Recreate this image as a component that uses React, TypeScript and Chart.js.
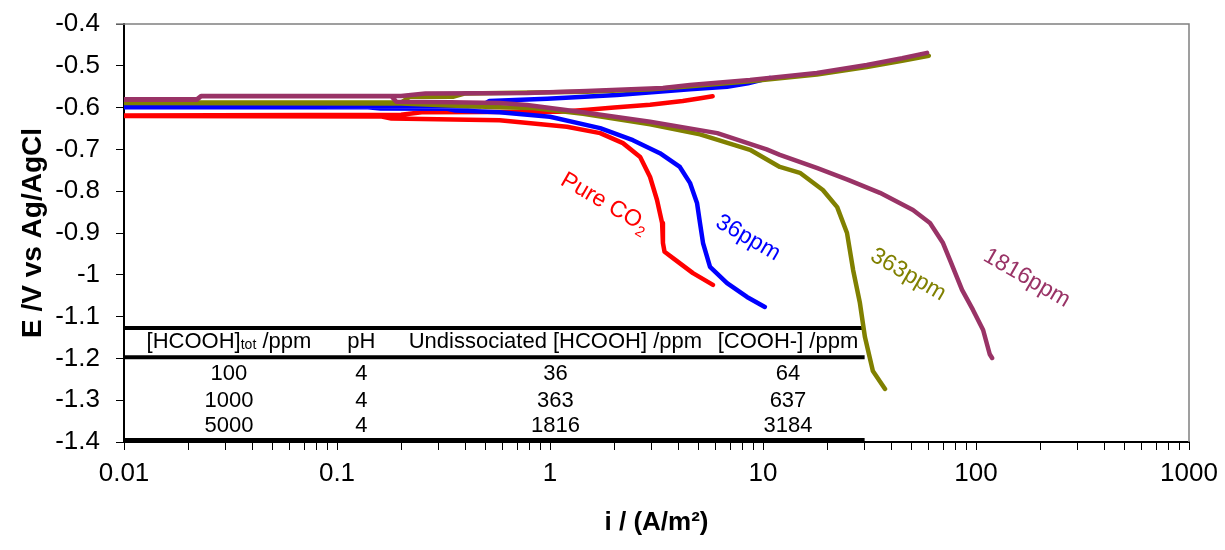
import React, { useEffect, useRef } from "react";
import { Chart, registerables } from "chart.js";

Chart.register(...registerables);

const FONT = '"Liberation Sans", Arial, Helvetica, sans-serif';

// ---- Pure CO2 (red): anodic branch (right -> left), then cathodic branch (left -> right)
const pureI = [5.8, 5.0, 4.2, 2.95, 2.0, 1.5, 1.1, 0.25, 0.2, 0.005,
  0.005, 0.16, 0.18, 0.58, 1.2, 1.72, 2.2, 2.65, 2.95, 3.18, 3.36, 3.39, 3.45, 3.78, 4.69, 5.82];
const pureE = [-0.573, -0.578, -0.584, -0.593, -0.600, -0.605, -0.610, -0.611, -0.617, -0.619,
  -0.620, -0.621, -0.626, -0.630, -0.646, -0.661, -0.685, -0.718, -0.766, -0.821, -0.876, -0.924, -0.945, -0.960, -0.996, -1.024];

// ---- 36 ppm (blue)
const p36I = [10.8, 8.5, 6.78, 4.54, 2.06, 0.97, 0.52, 0.47, 0.005,
  0.005, 0.14, 0.16, 0.33, 0.36, 0.58, 1.0, 1.72, 2.45, 3.28, 4.07, 4.54, 4.9, 5.06, 5.23, 5.64, 6.78, 8.41, 10.2];
const p36E = [-0.529, -0.542, -0.550, -0.556, -0.570, -0.579, -0.584, -0.597, -0.598,
  -0.599, -0.599, -0.602, -0.603, -0.607, -0.611, -0.622, -0.649, -0.678, -0.709, -0.742, -0.780, -0.828, -0.876, -0.924, -0.981, -1.020, -1.053, -1.077];

// ---- 363 ppm (olive)
const p363I = [60, 45, 30.7, 17.9, 8.69, 4.54, 3.0, 1.49, 0.4, 0.35, 0.22, 0.2, 0.005,
  0.005, 0.2, 0.34, 0.58, 0.83, 1.43, 2.95, 5.06, 8.69, 12.0, 14.9, 19.1, 22.3, 24.8, 26.5, 28.5, 30.1, 32.8, 37.4];
const p363E = [-0.476, -0.488, -0.503, -0.521, -0.537, -0.549, -0.556, -0.562, -0.566, -0.574, -0.574, -0.588, -0.588,
  -0.589, -0.590, -0.595, -0.599, -0.601, -0.615, -0.640, -0.664, -0.701, -0.742, -0.756, -0.797, -0.838, -0.900, -0.989, -1.067, -1.149, -1.230, -1.273];

// ---- 1816 ppm (purple)
const p1816I = [58.9, 45, 30.7, 17.9, 8.69, 4.54, 3.39, 1.49, 0.78, 0.26, 0.2, 0.023, 0.022, 0.005,
  0.005, 0.022, 0.023, 0.18, 0.19, 0.34, 0.58, 0.78, 1.43, 2.95, 6.1, 10.4, 12.0, 18, 25.1, 35.4, 50.6, 60.8, 70.0, 75.5, 86.0, 96.8, 108, 116, 119];
const p1816E = [-0.469, -0.482, -0.498, -0.517, -0.534, -0.546, -0.553, -0.560, -0.565, -0.566, -0.572, -0.572, -0.580, -0.580,
  -0.581, -0.581, -0.573, -0.573, -0.586, -0.587, -0.589, -0.594, -0.611, -0.634, -0.661, -0.700, -0.713, -0.745, -0.773, -0.804, -0.845, -0.876, -0.924, -0.965, -1.036, -1.084, -1.132, -1.190, -1.199];

const seriesNames = ["Pure CO2", "36ppm", "363ppm", "1816ppm"];
const seriesColors = ["#FF0000", "#0000FF", "#808000", "#993366"];

// curve labels (centre position in data units)
const labelTexts = ["Pure CO", "36ppm", "363ppm", "1816ppm"];
const labelSubs = ["2", "", "", ""];
const labelI = [1.81, 8.5, 48, 173];
const labelE = [-0.828, -0.912, -1.0, -1.008];

// axis ticks
const xTickDecades = [0.01, 0.1, 1, 10, 100, 1000];
const xTickLabels = ["0.01", "0.1", "1", "10", "100", "1000"];
const xMinorMultipliers = [2, 3, 4, 5, 6, 7, 8, 9];
const yTickValues = [-1.4, -1.3, -1.2, -1.1, -1.0, -0.9, -0.8, -0.7, -0.6, -0.5, -0.4];
const yTickLabels = ["-1.4", "-1.3", "-1.2", "-1.1", "-1", "-0.9", "-0.8", "-0.7", "-0.6", "-0.5", "-0.4"];

// embedded table
const tableHeaderMain = ["[HCOOH]", "pH", "Undissociated [HCOOH] /ppm", "[COOH-] /ppm"];
const tableRows = [
  ["100", "4", "36", "64"],
  ["1000", "4", "363", "637"],
  ["5000", "4", "1816", "3184"],
];
const tableColI = [0.0311, 0.13, 1.06, 13.1];
const tableHeaderE = -1.175;
const tableRowE = [-1.2517, -1.3163, -1.376];
const tableLineE = [-1.127, -1.197, -1.395];
const tableLineStartI = 0.0101;
const tableLineEndI = 30;

export default function App() {
  const ref = useRef<HTMLCanvasElement>(null);

  useEffect(() => {
    const canvas = ref.current;
    if (!canvas) return;
    const mk = (I: number[], E: number[]) => I.map((x, k) => ({ x, y: E[k] }));
    const curves = [
      mk(pureI, pureE),
      mk(p36I, p36E),
      mk(p363I, p363E),
      mk(p1816I, p1816E),
    ];

    const xTicks: number[] = [];
    for (let d = 0; d < xTickDecades.length - 1; d++) {
      xTicks.push(xTickDecades[d]);
      for (const m of xMinorMultipliers) xTicks.push(+(m * xTickDecades[d]).toPrecision(6));
    }
    xTicks.push(xTickDecades[xTickDecades.length - 1]);

    const overlay = {
      id: "overlay",
      beforeDatasetsDraw(chart: any) {
        const c = chart.ctx as CanvasRenderingContext2D;
        const xs = chart.scales.x;
        const ys = chart.scales.y;
        c.save();
        c.fillStyle = "#000";
        c.textBaseline = "alphabetic";
        const big = `22px ${FONT}`;
        const small = `14px ${FONT}`;
        const hy = ys.getPixelForValue(tableHeaderE);
        c.font = big;
        const w1 = c.measureText(tableHeaderMain[0]).width;
        const w3 = c.measureText(" /ppm").width;
        c.font = small;
        const w2 = c.measureText("tot").width;
        const cx0 = xs.getPixelForValue(tableColI[0]);
        const sx = cx0 - (w1 + w2 + w3) / 2;
        c.textAlign = "left";
        c.font = big;
        c.fillText(tableHeaderMain[0], sx, hy);
        c.font = small;
        c.fillText("tot", sx + w1, hy + 1);
        c.font = big;
        c.fillText(" /ppm", sx + w1 + w2, hy);
        c.textAlign = "center";
        for (let k = 1; k < tableHeaderMain.length; k++) {
          c.fillText(tableHeaderMain[k], xs.getPixelForValue(tableColI[k]), hy);
        }
        tableRows.forEach((row, r) => {
          const py = ys.getPixelForValue(tableRowE[r]);
          row.forEach((t, k) => c.fillText(t, xs.getPixelForValue(tableColI[k]), py));
        });
        c.restore();
      },
      afterDatasetsDraw(chart: any) {
        const c = chart.ctx as CanvasRenderingContext2D;
        const xs = chart.scales.x;
        const ys = chart.scales.y;
        const a = chart.chartArea;
        c.save();
        labelTexts.forEach((t, k) => {
          const px = xs.getPixelForValue(labelI[k]);
          const py = ys.getPixelForValue(labelE[k]);
          c.save();
          c.translate(px, py);
          c.rotate((30 * Math.PI) / 180);
          c.fillStyle = seriesColors[k];
          c.textBaseline = "middle";
          c.textAlign = "left";
          c.font = `23px ${FONT}`;
          const wm = c.measureText(t).width;
          c.font = `15px ${FONT}`;
          const ws = labelSubs[k] ? c.measureText(labelSubs[k]).width : 0;
          const start = -(wm + ws) / 2;
          c.font = `23px ${FONT}`;
          c.fillText(t, start, 0);
          if (labelSubs[k]) {
            c.font = `15px ${FONT}`;
            c.fillText(labelSubs[k], start + wm, 8);
          }
          c.restore();
        });
        c.strokeStyle = "#808080";
        c.lineWidth = 1.5;
        c.beginPath();
        c.moveTo(a.left - 8, a.top);
        c.lineTo(a.right, a.top);
        c.lineTo(a.right, a.bottom);
        c.stroke();
        c.restore();
      },
    };

    const datasets: any[] = curves.map((d, k) => ({
      label: seriesNames[k],
      data: d,
      showLine: true,
      borderColor: seriesColors[k],
      backgroundColor: seriesColors[k],
      borderWidth: 4.5,
      pointRadius: 0,
      borderJoinStyle: "round",
      borderCapStyle: "round",
      tension: 0,
      order: 4 - k,
    }));
    tableLineE.forEach((e, k) => {
      datasets.push({
        label: "table" + k,
        data: [
          { x: tableLineStartI, y: e },
          { x: tableLineEndI, y: e },
        ],
        showLine: true,
        borderColor: "#000",
        borderWidth: 4,
        pointRadius: 0,
        borderCapStyle: "butt",
        order: 10,
      });
    });

    const chart = new Chart(canvas, {
      type: "scatter",
      data: { datasets },
      plugins: [overlay],
      options: {
        animation: false,
        responsive: true,
        maintainAspectRatio: false,
        layout: { padding: { top: 16, right: 28, left: 0, bottom: 0 } },
        plugins: {
          legend: { display: false },
          tooltip: { enabled: false },
        },
        scales: {
          x: {
            type: "logarithmic",
            min: 0.01,
            max: 1000,
            afterBuildTicks: (s: any) => {
              s.ticks = xTicks.map((v) => ({ value: v }));
            },
            afterFit: (s: any) => {
              s.height = 100;
              s.paddingLeft = 0;
              s.paddingRight = 0;
            },
            ticks: {
              autoSkip: false,
              maxRotation: 0,
              minRotation: 0,
              padding: 8,
              color: "#000",
              font: { family: FONT, size: 26 },
              callback: (v: any) => {
                const idx = xTickDecades.findIndex(
                  (t) => Math.abs(Math.log10(Number(v)) - Math.log10(t)) < 1e-6
                );
                return idx >= 0 ? xTickLabels[idx] : "";
              },
            },
            grid: {
              drawOnChartArea: false,
              drawTicks: true,
              tickLength: 8,
              tickColor: "#000",
              tickWidth: 1,
            },
            border: { display: true, color: "#000", width: 2 },
            title: {
              display: true,
              text: "i / (A/m²)",
              color: "#000",
              font: { family: FONT, size: 26, weight: "bold" },
              padding: { top: 0, bottom: 4 },
            },
          },
          y: {
            type: "linear",
            min: -1.4,
            max: -0.4,
            afterBuildTicks: (s: any) => {
              s.ticks = yTickValues.map((v) => ({ value: v }));
            },
            afterFit: (s: any) => {
              s.width = 116;
              s.paddingTop = 0;
              s.paddingBottom = 0;
            },
            ticks: {
              autoSkip: false,
              padding: 16,
              color: "#000",
              font: { family: FONT, size: 26 },
              callback: (v: any) => {
                const idx = yTickValues.findIndex((t) => Math.abs(t - Number(v)) < 1e-6);
                return idx >= 0 ? yTickLabels[idx] : "";
              },
            },
            grid: {
              drawOnChartArea: false,
              drawTicks: true,
              tickLength: 8,
              tickColor: "#000",
              tickWidth: 1,
            },
            border: { display: true, color: "#000", width: 2 },
            title: {
              display: true,
              text: "E /V vs Ag/AgCl",
              color: "#000",
              font: { family: FONT, size: 28, weight: "bold" },
              padding: { top: 8, bottom: 0 },
            },
          },
        },
      } as any,
    });
    return () => chart.destroy();
  }, []);

  return (
    <div style={{ width: 1209, height: 534, position: "relative" }}>
      <canvas ref={ref} />
    </div>
  );
}
